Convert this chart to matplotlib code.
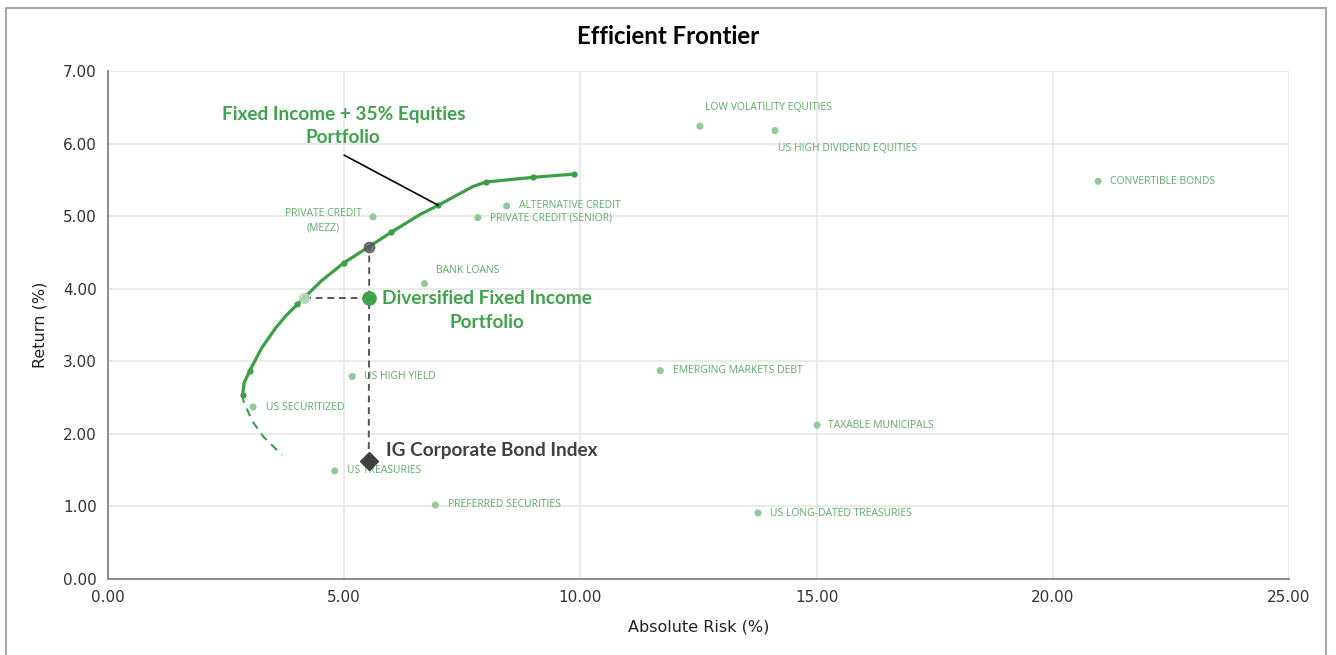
import matplotlib
matplotlib.use("Agg")
import matplotlib.pyplot as plt
from matplotlib import font_manager
from matplotlib.patches import Rectangle

installed = {f.name for f in font_manager.fontManager.ttflist}
narrow = 'Liberation Sans Narrow' if 'Liberation Sans Narrow' in installed else 'Open Sans'
boldf = 'Lato' if 'Lato' in installed else 'DejaVu Sans'

# ---------------- data ----------------
frontier_risk = [2.85, 2.88, 3.00, 3.25, 3.55, 3.77, 4.01, 4.52, 5.00, 5.53, 6.00, 6.60, 6.99, 7.73, 8.00, 9.00, 9.87]
frontier_ret = [2.54, 2.70, 2.87, 3.18, 3.46, 3.63, 3.785, 4.11, 4.36, 4.58, 4.78, 5.02, 5.15, 5.41, 5.47, 5.535, 5.58]
marker_risk = [2.85, 3.00, 4.01, 5.00, 6.00, 6.99, 8.00, 9.00, 9.87]
marker_ret = [2.54, 2.87, 3.785, 4.36, 4.78, 5.15, 5.47, 5.535, 5.58]
lower_risk = [2.85, 2.86, 3.04, 3.29, 3.68]
lower_ret = [2.54, 2.47, 2.19, 1.96, 1.71]

asset_names = ["LOW VOLATILITY EQUITIES", "US HIGH DIVIDEND EQUITIES", "CONVERTIBLE BONDS",
               "PRIVATE CREDIT\n(MEZZ)", "ALTERNATIVE CREDIT", "PRIVATE CREDIT (SENIOR)",
               "BANK LOANS", "US HIGH YIELD", "US SECURITIZED", "US TREASURIES",
               "PREFERRED SECURITIES", "EMERGING MARKETS DEBT", "TAXABLE MUNICIPALS",
               "US LONG-DATED TREASURIES"]
asset_risk = [12.53, 14.12, 20.96, 5.61, 8.44, 7.83, 6.70, 5.17, 3.07, 4.80, 6.93, 11.69, 15.01, 13.76]
asset_ret = [6.24, 6.18, 5.48, 4.99, 5.14, 4.98, 4.07, 2.79, 2.37, 1.49, 1.02, 2.87, 2.12, 0.91]

div_risk, div_ret = 5.52, 3.87
ig_risk, ig_ret = 5.52, 1.63
eq_point = (5.53, 4.58)
div_on_frontier = (4.14, 3.87)
fi35_point = (6.99, 5.15)

x_ticks = [0, 5, 10, 15, 20, 25]
y_ticks = [0, 1, 2, 3, 4, 5, 6, 7]

# ---------------- styles ----------------
GREEN = '#3d9e48'
LIGHT = '#92c99a'
LABEL = '#5cae67'
DARK = '#404040'

# label offsets in pixels (dx, dy up), ha
label_style = [
    ((5, 18.5), 'left'), ((3, -18), 'left'), ((12, 0), 'left'),
    ((-50, -4), 'center'), ((12, 0.5), 'left'), ((12.5, 0), 'left'),
    ((11, 13), 'left'), ((12, 0), 'left'), ((12.5, 0), 'left'), ((12, 0), 'left'),
    ((12.5, 0), 'left'), ((13, 0), 'left'), ((11, 0), 'left'), ((12, -1), 'left'),
]

fig = plt.figure(figsize=(13.36, 6.55), dpi=100)
ax = fig.add_axes([108/1336, 1-579/655, (1289-108)/1336, (579-71)/655])

ax.set_xlim(0, 25)
ax.set_ylim(0, 7)
ax.set_xticks(x_ticks)
ax.set_yticks(y_ticks)
ax.set_xticklabels([f"{v:.2f}" for v in x_ticks])
ax.set_yticklabels([f"{v:.2f}" for v in y_ticks])
ax.grid(True, color='#e6e6e6', lw=1.2, zorder=0)
ax.set_axisbelow(True)
for s in ['top', 'right']:
    ax.spines[s].set_visible(False)
for s in ['left', 'bottom']:
    ax.spines[s].set_color('#8c8c8c')
    ax.spines[s].set_linewidth(1.4)
ax.tick_params(length=0, labelsize=11, colors='#333333', pad=8)
for t in ax.get_xticklabels() + ax.get_yticklabels():
    t.set_family('DejaVu Sans')
ax.set_xlabel("Absolute Risk (%)", fontsize=11.5, color='#222222', labelpad=10)
ax.set_ylabel("Return (%)", fontsize=11.5, color='#222222', labelpad=11)

# frontier
ax.plot(frontier_risk, frontier_ret, color=GREEN, lw=2.3, zorder=4, solid_capstyle='round',
        solid_joinstyle='round')
ax.plot(marker_risk, marker_ret, 'o', color=GREEN, ms=3.5, zorder=5)
ax.plot(lower_risk, lower_ret, color=GREEN, lw=1.5, ls=(0, (4, 3)), zorder=4)

# assets
ax.scatter(asset_risk, asset_ret, s=26, color=LIGHT, zorder=3, edgecolors='none')
for name, x, y, (off, ha) in zip(asset_names, asset_risk, asset_ret, label_style):
    ax.annotate(name, (x, y), xytext=(off[0]*0.72, off[1]*0.72), textcoords='offset points',
                ha=ha, va='center', multialignment='center', fontsize=7.5,
                color=LABEL, family=narrow, zorder=6, linespacing=1.35)

# dashed guides
ax.plot([div_on_frontier[0], div_risk], [div_ret, div_ret], color='#555555', lw=1.4,
        ls=(0, (3.5, 2.5)), zorder=3)
ax.plot([ig_risk, eq_point[0]], [ig_ret, eq_point[1]], color='#555555', lw=1.4,
        ls=(0, (3.5, 2.5)), zorder=3)

ax.plot([div_on_frontier[0]], [div_on_frontier[1]], 'o', color='#b3d9b8', ms=7, zorder=6, alpha=0.9)
ax.plot([eq_point[0]], [eq_point[1]], 'o', color='#555555', ms=7.5, zorder=6, alpha=0.8)
ax.plot([div_risk], [div_ret], 'o', color='#3fa34b', ms=9.5, zorder=7)
ax.plot([ig_risk], [ig_ret], 'D', color=DARK, ms=9, zorder=7)

ax.annotate("Diversified Fixed Income\nPortfolio", (div_risk, div_ret), xytext=(13*0.72, -12.5*0.72),
            textcoords='offset points', ha='left', va='center', multialignment='center',
            fontsize=13.7, fontweight='bold', color='#3fa34b', family=boldf, linespacing=1.45, zorder=8)
ax.annotate("IG Corporate Bond Index", (ig_risk, ig_ret), xytext=(17*0.72, 10*0.72),
            textcoords='offset points', ha='left', va='center',
            fontsize=13.7, fontweight='bold', color=DARK, family=boldf, zorder=8)

ax.annotate("Fixed Income + 35% Equities\nPortfolio", xy=fi35_point, xytext=(4.98, 6.24),
            ha='center', va='center', multialignment='center',
            fontsize=13.7, fontweight='bold', color='#3fa34b', family=boldf, linespacing=1.45, zorder=8)
ax.annotate("", xy=fi35_point, xytext=(5.0, 5.84),
            arrowprops=dict(arrowstyle='-', color='black', lw=1.2, shrinkA=0, shrinkB=0), zorder=8)

fig.text(668/1336, 1-37/655, "Efficient Frontier", ha='center', va='center',
         fontsize=17.3, fontweight='bold', color='black', family=boldf)

fig.patches.append(Rectangle((6/1336, -0.02), (1326-6)/1336, 1-8/655+0.02, transform=fig.transFigure,
                             fill=False, edgecolor='#a6a6a6', lw=1.5))

fig.savefig("out.png", dpi=100)
